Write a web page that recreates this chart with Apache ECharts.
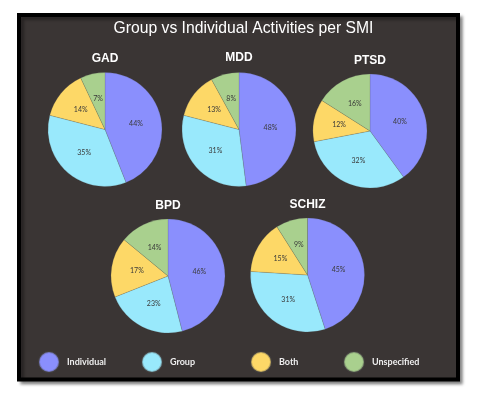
<!DOCTYPE html>
<html>
<head>
<meta charset="utf-8">
<style>
  html, body { margin: 0; padding: 0; background: #ffffff; }
  #container { width: 477px; height: 398px; }
</style>
<script src="https://cdn.jsdelivr.net/npm/echarts@6/dist/echarts.min.js"></script>
</head>
<body>
<div id="container"></div>
<script>
var dom = document.getElementById("container");
var pieChart = echarts.init(dom);

// activity types (slice order, clockwise from 12 o'clock)
const categories = ["Individual", "Group", "Both", "Unspecified"];
const colors = ["#8a8ffd", "#99e9fc", "#fdd867", "#a9d08e"];

// percentages per SMI
const disorders = ["GAD", "MDD", "PTSD", "BPD", "SCHIZ"];
const gadValues = [44, 35, 14, 7];
const mddValues = [48, 31, 13, 8];
const ptsdValues = [40, 32, 12, 16];
const bpdValues = [46, 23, 17, 14];
const schizValues = [45, 31, 15, 9];
const allValues = [gadValues, mddValues, ptsdValues, bpdValues, schizValues];

// pie layout
const pieCenters = [[105, 129.5], [239, 129.5], [370, 131], [168, 276], [307.5, 275]];
const titleY = [59, 58, 61, 206, 205];
const legendLeft = [38, 141, 250, 343];

var titles = [{
    text: "Group vs Individual Activities per SMI",
    left: 243.5,
    top: 29,
    padding: 0,
    textAlign: "center",
    textVerticalAlign: "middle",
    textStyle: {
        color: "#ffffff",
        fontSize: 15.7,
        fontWeight: "normal",
        fontFamily: "Liberation Sans, Arial, sans-serif",
    },
}];

var series = [];

disorders.forEach(function (name, i) {
    titles.push({
        text: name,
        left: pieCenters[i][0],
        top: titleY[i],
        padding: 0,
        textAlign: "center",
        textVerticalAlign: "middle",
        textStyle: {
            color: "#ffffff",
            fontSize: 12,
            fontWeight: "bold",
            fontFamily: "Liberation Sans, Arial, sans-serif",
        },
    });
    series.push({
        name: name,
        type: "pie",
        center: pieCenters[i],
        radius: 57,
        startAngle: 90,
        clockwise: true,
        silent: true,
        animation: false,
        label: {
            show: true,
            position: "inside",
            formatter: "{c}%",
            color: "#3a3a3a",
            fontSize: 7,
            fontFamily: "Lato, sans-serif",
        },
        labelLine: { show: false },
        itemStyle: {
            borderColor: "rgba(80,80,80,0.35)",
            borderWidth: 0.5,
        },
        data: categories.map(function (c, j) {
            return { name: c, value: allValues[i][j] };
        }),
    });
});

var legends = categories.map(function (c, j) {
    return {
        data: [c],
        left: legendLeft[j],
        top: 351,
        padding: 0,
        icon: "circle",
        itemWidth: 26,
        itemHeight: 20,
        itemGap: 0,
        selectedMode: false,
        textStyle: {
            color: "#eeeeee",
            fontSize: 9,
            fontWeight: "bold",
            fontFamily: "Lato, sans-serif",
        },
    };
});

var option = {
    backgroundColor: "#ffffff",
    color: colors,
    animation: false,
    title: titles,
    legend: legends,
    graphic: {
        elements: [
            {
                type: "rect",
                z: 0,
                shape: { x: 19, y: 15, width: 439, height: 364.5 },
                style: {
                    fill: "#3a3534",
                    stroke: "#000000",
                    lineWidth: 4,
                    shadowColor: "rgba(0,0,0,0.35)",
                    shadowBlur: 3,
                    shadowOffsetX: 3,
                    shadowOffsetY: 3,
                },
            },
        ],
    },
    series: series,
};

pieChart.setOption(option);
</script>
</body>
</html>
